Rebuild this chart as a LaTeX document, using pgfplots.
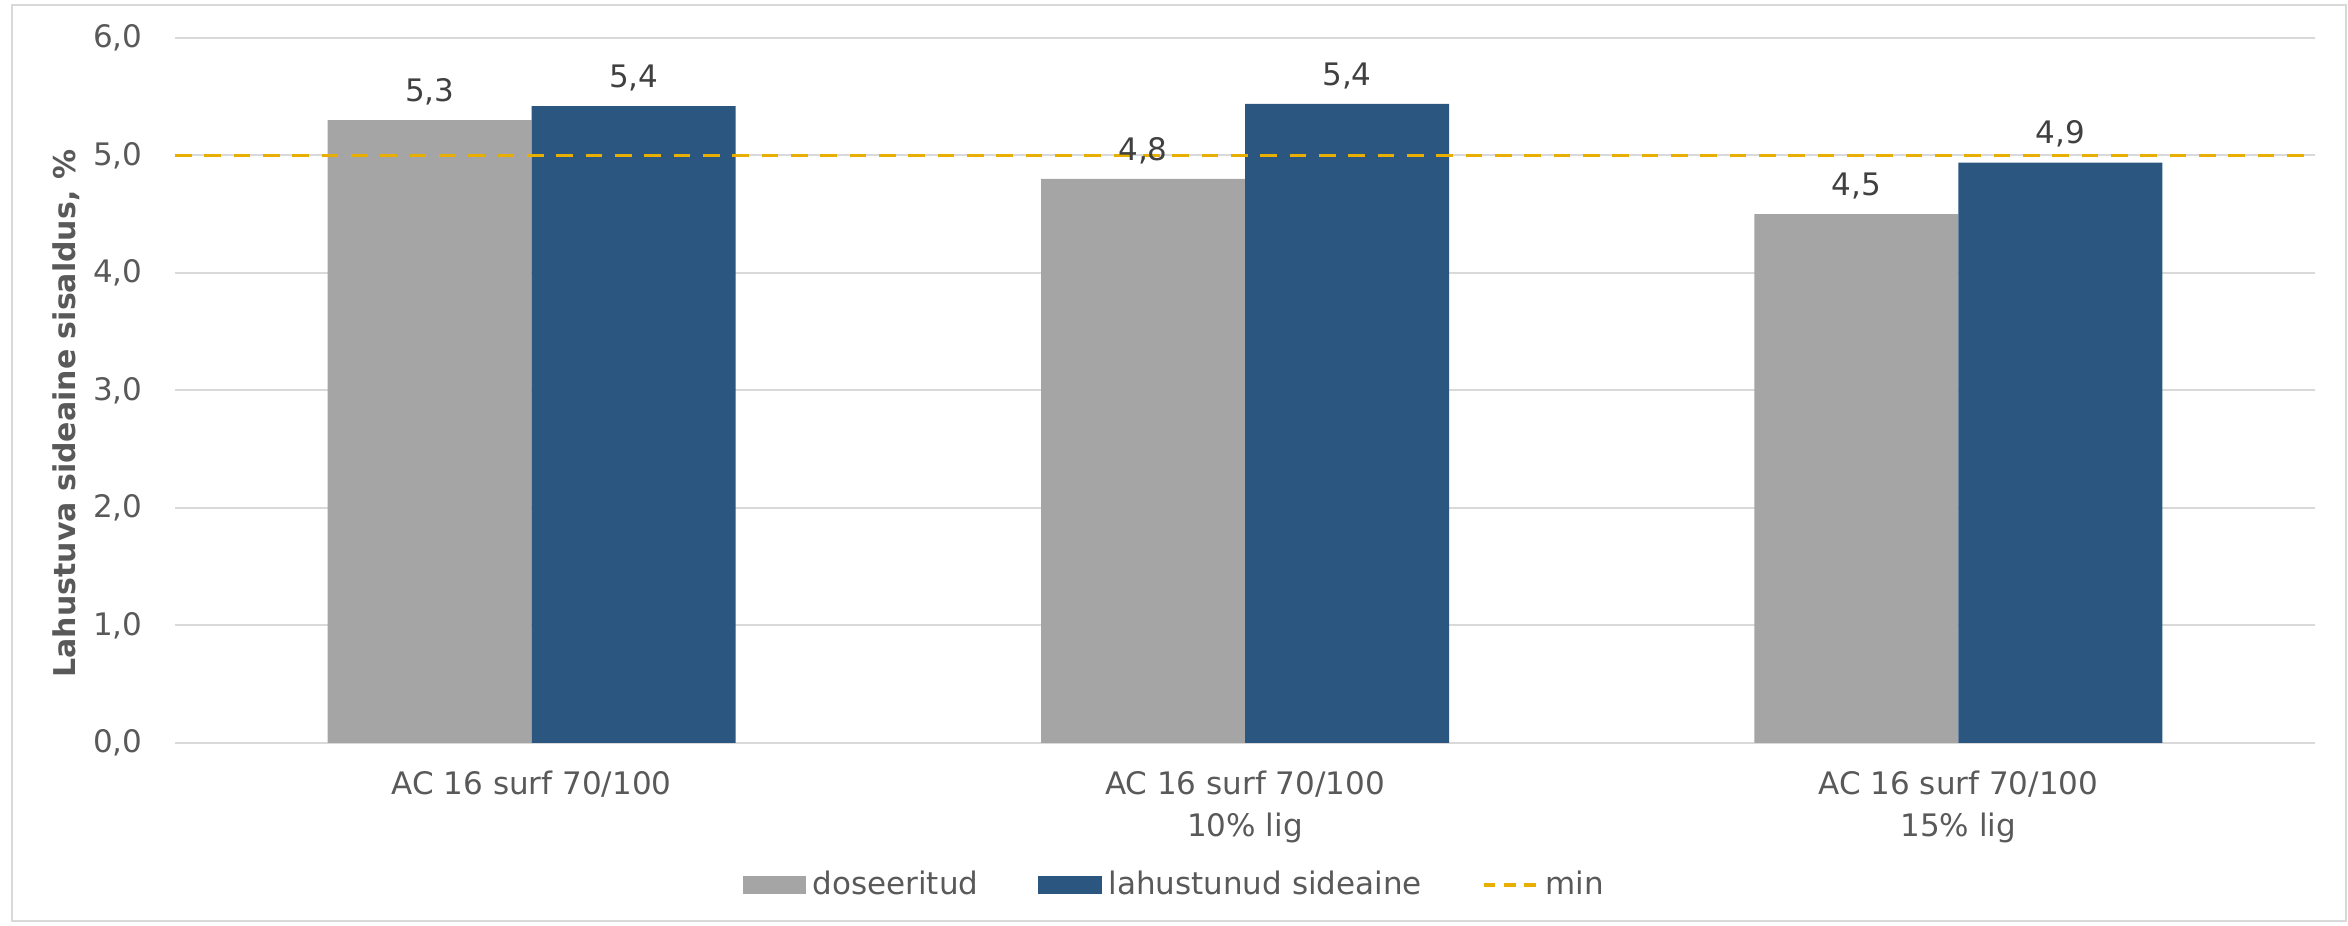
\documentclass[border=0pt]{standalone}
\usepackage{fontspec}
\setmainfont{DejaVu Sans}
\usepackage{pgfplots}
\pgfplotsset{compat=1.18}
\definecolor{cgray}{HTML}{A5A5A5}
\definecolor{cblue}{HTML}{2A5680}
\definecolor{cgold}{HTML}{E8AF00}
\definecolor{ctxt}{HTML}{595959}
\definecolor{clab}{HTML}{404040}
\definecolor{cgrid}{HTML}{D9D9D9}
\begin{document}
\begin{tikzpicture}
\path[use as bounding box] (-52.5pt,-54.9pt) rectangle (651.9pt,222.9pt);
\draw[cgrid, line width=0.6pt] (-48.9pt,-53.4pt) rectangle (651.3pt,221.4pt);
\begin{axis}[
  at={(0,0)}, anchor=south west, scale only axis,
  width=642pt, height=211.5pt,
  xmin=-0.5, xmax=2.5, ymin=0, ymax=6,
  ytick={0,1,2,3,4,5,6},
  xtick={0,1,2},
  xticklabels={{AC 16 surf 70/100},{AC 16 surf 70/100\\10\% lig},{AC 16 surf 70/100\\15\% lig}},
  axis line style={draw=none},
  major tick length=0pt,
  ymajorgrids, grid style={cgrid, line width=0.6pt},
  font=\fontsize{9.3}{12.6}\selectfont,
  /pgf/number format/assume math mode=true,
  y tick label style={/pgf/number format/fixed, /pgf/number format/fixed zerofill,
    /pgf/number format/precision=1, /pgf/number format/use comma,
    text=ctxt, inner xsep=0pt, xshift=-9.6pt},
  x tick label style={text=ctxt, align=center, yshift=-5pt},
  ylabel={\bfseries Lahustuva sideaine sisaldus, \%},
  every axis y label/.style={at={(axis description cs:-0.0507,0.467)}, rotate=90, anchor=center, text=ctxt,
    font=\fontsize{9}{11}\selectfont},
  legend columns=3,
  legend style={at={(axis description cs:0.468,-0.2014)}, anchor=center, draw=none, fill=none,
    text=ctxt, font=\fontsize{9.3}{11}\selectfont,
    /tikz/every even column/.append style={column sep=16pt}},
  legend cell align=left,
]
\addplot[ybar, bar width=61.2pt, bar shift=-30.6pt, fill=cgray, draw=none,
  nodes near coords,
  every node near coord/.append style={text=clab, font=\fontsize{9.3}{11}\selectfont, yshift=1pt, xshift=-30.6pt,
    /pgf/number format/fixed, /pgf/number format/fixed zerofill,
    /pgf/number format/precision=1, /pgf/number format/use comma},
  legend image code/.code={\fill[cgray] (0pt,-2.7pt) rectangle (19pt,2.7pt);}]
  coordinates {(0,5.30) (1,4.80) (2,4.50)};
\addlegendentry{doseeritud}
\addplot[ybar, bar width=61.2pt, bar shift=30.6pt, fill=cblue, draw=none,
  nodes near coords,
  every node near coord/.append style={text=clab, font=\fontsize{9.3}{11}\selectfont, yshift=1pt, xshift=30.6pt,
    /pgf/number format/fixed, /pgf/number format/fixed zerofill,
    /pgf/number format/precision=1, /pgf/number format/use comma},
  legend image code/.code={\fill[cblue] (0pt,-2.7pt) rectangle (19pt,2.7pt);}]
  coordinates {(0,5.42) (1,5.44) (2,4.94)};
\addlegendentry{lahustunud sideaine}
\addplot[cgold, line width=1pt, dash pattern=on 5pt off 3.8pt, sharp plot, no marks,
  legend image code/.code={\draw[cgold, line width=1pt, dash pattern=on 3.5pt off 2.6pt] (0pt,0pt) -- (16pt,0pt);}]
  coordinates {(-0.5,5) (2.5,5)};
\addlegendentry{min}
\end{axis}
\end{tikzpicture}
\end{document}
